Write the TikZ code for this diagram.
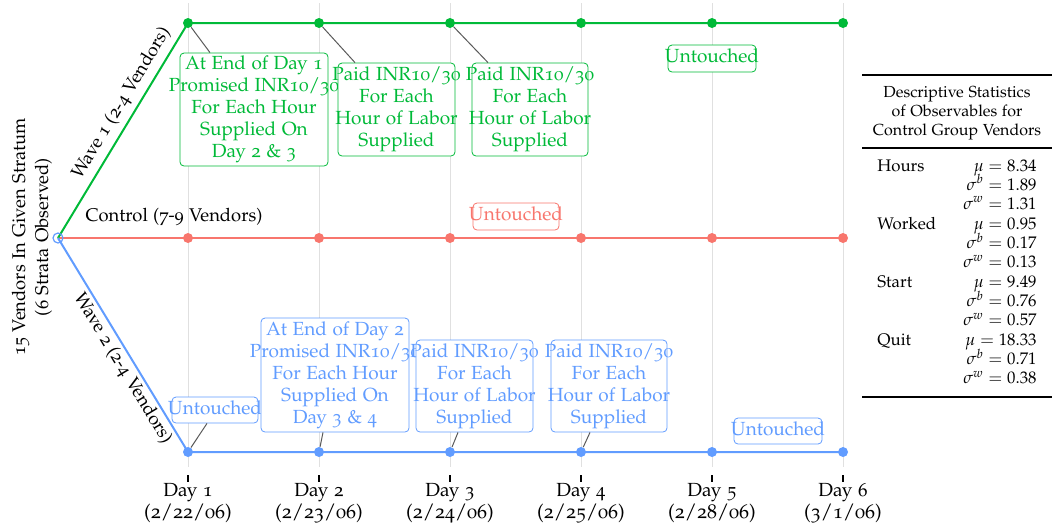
\documentclass[tikz,border=0pt]{standalone}
\usepackage[T1]{fontenc}
\usepackage[osf]{mathpazo}
\definecolor{gG}{HTML}{00BA38}
\definecolor{gR}{HTML}{F8766D}
\definecolor{gB}{HTML}{619CFF}
\newcommand\boxtext[1]{\makebox[0pt]{\begin{tabular}{@{}c@{}}#1\end{tabular}}}
\begin{document}
\begin{tikzpicture}[x=0.5pt,y=-0.5pt,
  dot/.style={circle,fill=#1,inner sep=0pt,minimum size=5pt},
  tbox/.style={draw=#1,text=#1,rounded corners=2pt,fill=white,
    inner sep=0pt,font=\fontsize{9.5}{11}\selectfont,line width=0.4pt},
  conn/.style={draw=black!65,line width=0.5pt},
  gridline/.style={draw=black!12,line width=0.5pt},
  tline/.style={line width=1pt},
  lab/.style={font=\fontsize{9.2}{11}\selectfont},
  daylab/.style={align=center,font=\fontsize{9.5}{9}\selectfont},
  tabh/.style={font=\fontsize{8}{9.5}\selectfont},
  tab/.style={font=\fontsize{8.4}{9.7}\selectfont}]
\useasboundingbox (0,0) rectangle (1052,527);
% grid and ticks
\foreach \x/\d/\dt in {188/1/2\slash 22\slash 06,319/2/2\slash 23\slash 06,450/3/2\slash 24\slash 06,581/4/2\slash 25\slash 06,712/5/2\slash 28\slash 06,843/6/3\slash 1\slash 06}{
  \draw[gridline] (\x,3) -- (\x,467);
  \draw[black,line width=0.6pt] (\x,475) -- (\x,482);
  \node[daylab] (day\d) at (\x,503) {Day \d\\{\fontsize{10}{9}\selectfont(\dt)}};
}
% coordinates
\coordinate (O) at (58,238);
\foreach \x [count=\i] in {188,319,450,581,712,843}{
  \coordinate (G\i) at (\x,23);
  \coordinate (R\i) at (\x,238);
  \coordinate (B\i) at (\x,452);
}
% branch lines
\draw[gR,tline] (O) -- (R6);
\draw[gG,tline] (O) -- node[sloped,above,pos=0.59,lab,text=black,inner sep=2.8pt] {Wave 1 (2-4 Vendors)} (G1) -- (G6);
\draw[gB,tline] (O) -- node[sloped,below,pos=0.58,lab,text=black,inner sep=1.4pt] {Wave 2 (2-4 Vendors)} (B1) -- (B6);
\node[circle,draw=gB,inner sep=0pt,minimum size=5pt,line width=0.6pt] (o) at (O) {};
% dots
\foreach \i in {1,...,6}{
  \node[dot=gG] (g\i) at (G\i) {};
  \node[dot=gR] (r\i) at (R\i) {};
  \node[dot=gB] (b\i) at (B\i) {};
}
% labels
\node[lab] (ctl) at (174,217) {Control (7-9 Vendors)};
\node[rotate=90,align=center,font=\fontsize{9.2}{11.5}\selectfont] (strat) at (32,237) {15 Vendors In Given Stratum\\(6 Strata Observed)};
% green boxes
\node[tbox=gG,minimum width=74pt,minimum height=56.5pt] (w1a) at (254,109.5) {\boxtext{At End of Day 1\\Promised INR10/30\\For Each Hour\\Supplied On\\Day 2 \& 3}};
\node[tbox=gG,minimum width=58.5pt,minimum height=46.5pt] (w1b) at (396.5,109.5) {\boxtext{Paid INR10/30\\For Each\\Hour of Labor\\Supplied}};
\node[tbox=gG,minimum width=58pt,minimum height=46.5pt] (w1c) at (530,109.5) {\boxtext{Paid INR10/30\\For Each\\Hour of Labor\\Supplied}};
\node[tbox=gG,minimum width=44pt,minimum height=13.5pt] (w1d) at (712,58.5) {\boxtext{Untouched}};
% red box
\node[tbox=gR,minimum width=43pt,minimum height=13.5pt] (c1) at (516,216.5) {\boxtext{Untouched}};
% blue boxes
\node[tbox=gB,minimum width=43pt,minimum height=13pt] (w2a) at (215,410) {\boxtext{Untouched}};
\node[tbox=gB,minimum width=74pt,minimum height=57pt] (w2b) at (335,375) {\boxtext{At End of Day 2\\Promised INR10/30\\For Each Hour\\Supplied On\\Day 3 \& 4}};
\node[tbox=gB,minimum width=58.5pt,minimum height=46pt] (w2c) at (474.5,386) {\boxtext{Paid INR10/30\\For Each\\Hour of Labor\\Supplied}};
\node[tbox=gB,minimum width=58pt,minimum height=46pt] (w2d) at (609,386) {\boxtext{Paid INR10/30\\For Each\\Hour of Labor\\Supplied}};
\node[tbox=gB,minimum width=44pt,minimum height=13pt] (w2e) at (778,431) {\boxtext{Untouched}};
% connectors
\draw[conn] (g1) -- ([xshift=-22pt]w1a.north);
\draw[conn] (g2) -- ([xshift=-20.75pt]w1b.north);
\draw[conn] (g3) -- ([xshift=-21pt]w1c.north);
\draw[conn] (b1) -- ([xshift=-4pt]w2a.south);
\draw[conn] (b2) -- ([xshift=-6pt]w2b.south);
\draw[conn] (b3) -- ([xshift=-8.25pt]w2c.south);
\draw[conn] (b4) -- ([xshift=-9.5pt]w2d.south);
% table
\draw[line width=1pt] (862,75) -- (1052,75);
\node[tabh,align=center] (th) at (957,113) {Descriptive Statistics\\of Observables for\\Control Group Vendors};
\draw[line width=0.6pt] (862,148) -- (1052,148);
\foreach \nm/\m/\b/\w [count=\k from 0] in {Hours/8.34/1.89/1.31,Worked/0.95/0.17/0.13,Start/9.49/0.76/0.57,Quit/18.33/0.71/0.38}{
  \node[tab,anchor=base west,inner sep=0pt] (rowlab\k) at (877,{171+58.2*\k}) {\nm};
  \node[tab,anchor=base east,inner sep=0pt] (mu\k) at (1037,{171+58.2*\k}) {$\mu = \m$};
  \node[tab,anchor=base east,inner sep=0pt] (sb\k) at (1037,{190+58.2*\k}) {$\sigma^b = \b$};
  \node[tab,anchor=base east,inner sep=0pt] (sw\k) at (1037,{209+58.2*\k}) {$\sigma^w = \w$};
}
\draw[line width=1pt] (862,397) -- (1052,397);
\end{tikzpicture}
\end{document}
